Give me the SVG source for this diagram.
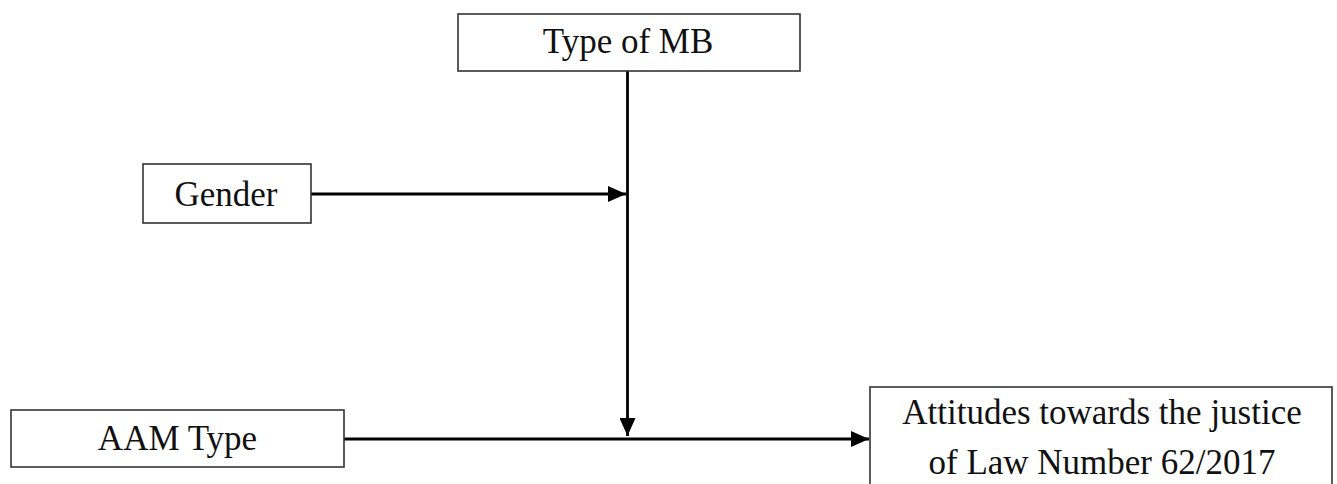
<svg xmlns="http://www.w3.org/2000/svg" width="1337" height="484" viewBox="0 0 1337 484">
<style>
.box{fill:#fff;stroke:#333;stroke-width:1.6}
.lbl{font-family:"Liberation Serif","Times New Roman",serif;font-size:35px;fill:#111;text-anchor:middle}
.conn{stroke:#000;stroke-width:2.8;fill:none}
</style>
<defs>
<marker id="ah" markerUnits="userSpaceOnUse" markerWidth="20" markerHeight="16" refX="18" refY="8" orient="auto">
<path d="M0,0 L18,8 L0,16 Z" fill="#000"/>
</marker>
</defs>
<rect width="1337" height="484" fill="#fff"/>
<g id="connectors">
<line class="conn" x1="627.5" y1="71" x2="627.5" y2="436" marker-end="url(#ah)"/>
<line class="conn" x1="311" y1="194" x2="626" y2="194" marker-end="url(#ah)"/>
<line class="conn" x1="344" y1="439" x2="869" y2="439" marker-end="url(#ah)"/>
</g>
<g id="node-typemb">
<rect class="box" x="458" y="14" width="342" height="57"/>
<text class="lbl" x="628" y="53">Type of MB</text>
</g>
<g id="node-gender">
<rect class="box" x="143" y="164" width="168" height="59"/>
<text class="lbl" x="226" y="206">Gender</text>
</g>
<g id="node-aam">
<rect class="box" x="11" y="410" width="333" height="57"/>
<text class="lbl" x="177.5" y="450">AAM Type</text>
</g>
<g id="node-attitudes">
<rect class="box" x="870" y="387" width="462" height="110"/>
<text class="lbl" x="1102" y="424">Attitudes towards the justice</text>
<text class="lbl" x="1102" y="474">of Law Number 62/2017</text>
</g>
</svg>
